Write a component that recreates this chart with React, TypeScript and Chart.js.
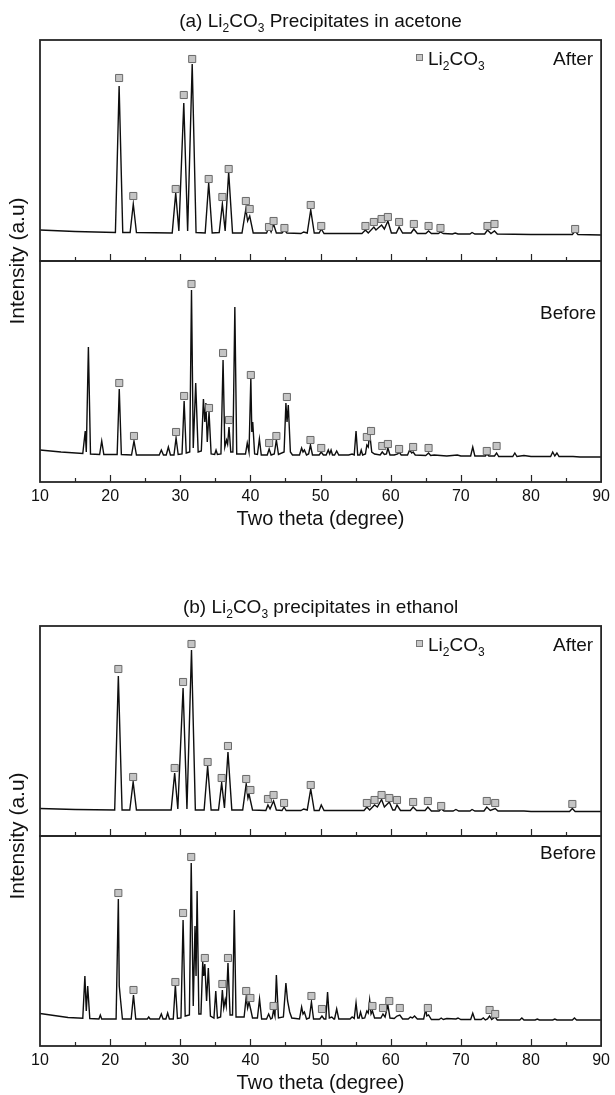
import React, { useEffect, useRef } from "react";
import { Chart, registerables } from "chart.js";

Chart.register(...registerables);

// ---------------- data ----------------
// x: two theta (degree); y: intensity in arbitrary units (each sub-plot runs 0..its height)
const X_MIN = 10;
const X_MAX = 90;
const X_TICK_LABELS = ["10", "20", "30", "40", "50", "60", "70", "80", "90"];
const X_TICK_MARKS = [15, 20, 25, 30, 35, 40, 45, 50, 55, 60, 65, 70, 75, 80, 85];

const acetoneAfter: [number, number][] = [
  [10, 31], [15, 29.5], [20.75, 28.5], [21.28, 175], [21.8, 28.5], [22.85, 28.5], [23.3, 57], [23.75, 28.5],
  [28.85, 28], [29.35, 68], [29.8, 30], [30.5, 158], [31.05, 30], [31.7, 197], [32.25, 28.5],
  [33.55, 28], [34.05, 78], [34.55, 28], [35.55, 28.5], [36.0, 57], [36.4, 30], [36.9, 89], [37.45, 28],
  [38.8, 28], [39.35, 52], [39.6, 40], [39.9, 45], [40.4, 28],
  [42.3, 28], [42.65, 34], [42.95, 29], [43.3, 37], [43.7, 28], [44.5, 28], [44.85, 31], [45.2, 28],
  [47.2, 27.5], [47.6, 29], [48.1, 28], [48.6, 51], [49.1, 28], [49.8, 28], [50.1, 32], [50.5, 27.5],
  [55.9, 27.5], [56.4, 31], [56.8, 28], [57.6, 34], [57.9, 31], [58.7, 36], [59.1, 32], [59.6, 40], [60.1, 28],
  [60.8, 28], [61.2, 34], [61.7, 28], [62.9, 28], [63.3, 32], [63.8, 27.5], [65.0, 27.5], [65.4, 30], [65.8, 27.5],
  [66.8, 27.5], [67.1, 29], [67.5, 27.5], [68.8, 27], [69.2, 28], [69.6, 27], [71.3, 27], [71.6, 28.5], [72, 27],
  [73.4, 27], [73.8, 31], [74.3, 27.5], [74.8, 30], [75.2, 27], [80, 26.5], [85.9, 26.5], [86.3, 30], [86.7, 26.5], [90, 26],
];
const acetoneAfterMarks: [number, number][] = [
  [21.28, 183], [23.3, 65], [29.35, 72], [30.5, 166], [31.7, 202], [34.05, 82], [36.0, 64], [36.9, 92],
  [39.35, 60], [39.9, 52], [42.65, 34], [43.3, 40], [44.85, 33], [48.6, 56], [50.1, 35], [56.4, 35],
  [57.6, 39], [58.7, 42], [59.6, 44], [61.2, 39], [63.3, 37], [65.4, 35], [67.1, 33], [73.8, 35], [74.8, 37], [86.3, 32],
];

const acetoneBefore: [number, number][] = [
  [10, 32], [13, 30], [16.1, 28.5], [16.45, 51], [16.6, 30], [16.9, 135], [17.2, 28], [18.5, 27.5], [18.8, 41], [19.1, 27.5],
  [21.0, 27.5], [21.3, 93], [21.6, 27.5], [23.05, 27], [23.4, 41], [23.75, 27], [27.0, 27], [27.3, 32], [27.6, 27],
  [28.0, 27], [28.3, 35], [28.6, 27], [29.1, 27], [29.4, 44], [29.7, 27.5], [30.25, 28], [30.55, 81], [30.85, 29],
  [31.35, 30], [31.6, 192], [31.85, 34], [32.2, 99], [32.55, 30], [33.0, 31], [33.3, 83], [33.5, 60], [33.65, 79],
  [33.85, 40], [34.1, 70], [34.4, 28], [34.9, 27.5], [35.1, 32], [35.3, 27.5], [35.8, 28], [36.1, 122], [36.35, 35],
  [36.6, 42], [36.75, 38], [36.95, 55], [37.2, 30], [37.5, 30], [37.78, 175], [38.05, 28], [39.3, 28], [39.55, 39],
  [39.8, 30], [40.06, 104], [40.2, 50], [40.33, 60], [40.6, 28], [41.0, 27.5], [41.28, 43], [41.55, 27],
  [42.4, 27], [42.67, 33], [42.95, 27], [43.4, 28], [43.7, 42], [44.0, 27.5], [44.8, 30], [45.06, 79], [45.22, 60],
  [45.4, 77], [45.7, 30], [46.0, 27], [47.0, 27], [47.3, 34], [47.5, 30], [47.7, 32], [48.0, 27], [48.3, 28],
  [48.56, 37], [48.85, 27], [49.8, 27], [50.1, 30], [50.4, 27], [50.8, 27], [51.1, 32], [51.3, 28], [51.5, 32],
  [51.7, 27], [52.0, 27], [52.3, 31], [52.6, 27], [54.0, 27], [54.5, 28], [54.8, 27], [55.06, 51], [55.3, 27],
  [55.6, 27], [55.8, 32], [56.0, 27], [56.4, 28], [56.6, 37], [56.8, 35], [57.0, 49], [57.3, 30], [57.7, 28],
  [58.5, 27], [58.8, 30], [59.1, 27.5], [59.4, 28], [59.6, 34], [59.9, 27], [60.5, 27], [61.0, 28], [61.2, 30],
  [61.5, 27], [62.4, 27], [62.7, 32], [63.0, 29], [63.2, 30], [63.5, 27], [65.0, 26.5], [65.4, 29], [65.7, 26.5],
  [66.2, 27], [68, 26], [69.5, 27], [70, 26], [71.4, 26], [71.7, 35], [72.0, 26], [73.5, 26], [73.7, 28], [74.0, 26],
  [74.8, 26], [75.1, 29], [75.4, 25.5], [77.4, 25.5], [77.7, 29], [78, 25.5], [79, 26.5], [80, 25.5], [82.8, 25.5],
  [83.1, 30], [83.4, 26], [83.7, 29], [84, 25.5], [86, 25.5], [87, 25], [90, 25],
];
const acetoneBeforeMarks: [number, number][] = [
  [21.3, 99], [23.4, 46], [29.4, 50], [30.55, 86], [31.6, 198], [34.1, 74], [36.1, 129], [36.95, 62],
  [40.06, 107], [42.67, 39], [43.7, 46], [45.2, 85], [48.56, 42], [50.1, 34], [56.6, 45], [57.2, 51],
  [58.8, 36], [59.6, 38], [61.2, 33], [63.2, 35], [65.4, 34], [73.7, 31], [75.1, 36],
];

const ethanolAfter: [number, number][] = [
  [10, 27.5], [15, 26.5], [20.65, 26], [21.17, 160], [21.7, 26], [22.8, 26], [23.28, 54], [23.75, 26],
  [28.7, 26], [29.2, 63], [29.65, 27], [30.4, 148], [30.95, 27], [31.6, 186], [32.15, 26],
  [33.4, 26], [33.9, 70], [34.4, 26], [35.45, 26], [35.9, 53], [36.3, 28], [36.8, 84], [37.35, 26],
  [38.9, 26], [39.4, 52], [39.65, 38], [39.8, 42], [40.3, 26], [42.2, 25.5], [42.5, 31], [42.8, 27], [43.3, 35], [43.7, 26],
  [44.5, 25.5], [44.8, 29], [45.1, 25.5], [47.2, 25.5], [47.6, 27], [48.1, 26], [48.6, 47], [49.1, 25.5], [49.8, 25.5],
  [50.1, 31], [50.5, 25.5], [56.2, 25.5], [56.6, 29], [57, 26], [57.7, 31], [58.1, 29], [58.7, 36.5], [59.1, 29],
  [59.8, 34], [60.3, 26], [60.6, 26], [60.9, 31], [61.4, 25.5], [62.8, 25.5], [63.2, 29], [63.7, 25.5], [64.9, 25.5],
  [65.3, 29], [65.8, 25], [66.9, 25], [67.2, 27], [67.6, 25], [68.9, 25], [69.3, 26.5], [69.7, 25], [71.3, 25],
  [71.6, 26.5], [72, 25], [73.3, 25], [73.7, 29], [74.2, 25.5], [74.9, 27.5], [75.3, 25], [79, 25], [80, 24.5],
  [85.5, 24.5], [85.9, 27.5], [86.3, 24.5], [90, 24.5],
];
const ethanolAfterMarks: [number, number][] = [
  [21.17, 167], [23.28, 59], [29.2, 68], [30.4, 154], [31.6, 192], [33.9, 74], [35.9, 58], [36.8, 90],
  [39.4, 57], [40.0, 46], [42.5, 37], [43.3, 41], [44.8, 33], [48.6, 51], [56.6, 33], [57.7, 36],
  [58.7, 41], [59.8, 38], [60.9, 36], [63.2, 34], [65.3, 35], [67.2, 30], [73.7, 35], [74.9, 33], [85.9, 32],
];

const ethanolBefore: [number, number][] = [
  [10, 32.5], [12, 30.5], [14, 28.5], [16.1, 27.7], [16.4, 70], [16.6, 35], [16.8, 60], [17.1, 27.5], [18.4, 27],
  [18.6, 31], [18.8, 27], [20.85, 27], [21.17, 147], [21.3, 60], [21.5, 45], [21.75, 27], [23.0, 27], [23.33, 51],
  [23.65, 27], [25.3, 27], [25.5, 29], [25.7, 27], [27.0, 27], [27.3, 32], [27.55, 27], [27.95, 27], [28.2, 33],
  [28.45, 27], [29.0, 27], [29.3, 61], [29.6, 27.5], [30.1, 28], [30.4, 126], [30.7, 30], [31.3, 31], [31.56, 183],
  [31.85, 40], [32.1, 120], [32.25, 70], [32.4, 155], [32.65, 32], [32.95, 32], [33.2, 84], [33.35, 70], [33.5, 82],
  [33.75, 45], [34.0, 78], [34.3, 30], [34.8, 28], [35.06, 55], [35.3, 28], [35.75, 29], [36.0, 56], [36.2, 38],
  [36.4, 46], [36.55, 40], [36.8, 83], [37.1, 31], [37.45, 31], [37.7, 136], [37.95, 29], [39.1, 29], [39.4, 49],
  [39.6, 38], [39.8, 44], [40.06, 36], [40.3, 28], [41.0, 28], [41.3, 47], [41.6, 27], [42.3, 27], [42.6, 32],
  [42.9, 27], [43.1, 28], [43.3, 36], [43.5, 30], [43.7, 71], [44.0, 28], [44.7, 29], [45.06, 63], [45.3, 45],
  [45.6, 34], [45.9, 28], [47.0, 27], [47.3, 39], [47.5, 32], [47.7, 34], [48.0, 27], [48.4, 28], [48.7, 44],
  [49.0, 27], [49.9, 27], [50.2, 30], [50.5, 27], [50.75, 27], [51.0, 54], [51.25, 28], [51.6, 29], [51.9, 27],
  [52.0, 27], [52.3, 37], [52.6, 27], [54.2, 27], [54.5, 29], [54.8, 27.5], [55.06, 43], [55.3, 28], [55.5, 28],
  [55.7, 34], [55.95, 27.5], [56.3, 28], [56.6, 35], [56.8, 33], [57.0, 46], [57.2, 32], [57.4, 35], [57.7, 28],
  [58.6, 28], [58.9, 32], [59.2, 29], [59.6, 41], [59.9, 28], [60.5, 27.5], [60.9, 30], [61.3, 31], [61.7, 27],
  [62.5, 27], [62.8, 29], [63.1, 28], [63.4, 30], [63.8, 27], [64.7, 27], [65.0, 37], [65.15, 30], [65.4, 31],
  [65.8, 26.5], [66.9, 26.5], [67.2, 28], [67.5, 26.5], [68, 27.5], [69.3, 27], [69.6, 28], [70, 26.5], [71.4, 26.5],
  [71.7, 32.7], [72, 26.5], [72.9, 26.5], [73.2, 28], [73.5, 26], [73.8, 27], [74.1, 30], [74.4, 26.5], [74.9, 29],
  [75.2, 26], [78.4, 26], [78.7, 28], [79, 26], [80.6, 26], [80.9, 27], [81.2, 26], [83.1, 26], [83.4, 27],
  [83.7, 26], [85.9, 26], [86.2, 28], [86.5, 26], [88, 26], [90, 26],
];
const ethanolBeforeMarks: [number, number][] = [
  [21.17, 153], [23.33, 56], [29.3, 64], [30.4, 133], [31.56, 189], [33.5, 88], [36.0, 62], [36.8, 88],
  [39.4, 55], [40.0, 48], [43.3, 40], [48.7, 50], [50.2, 37], [57.4, 40], [58.9, 38], [59.8, 45],
  [61.3, 38], [65.3, 38], [74.1, 36], [74.9, 32],
];

// ---------------- texts ----------------
type Part = { t: string; sub?: boolean };
const TITLE_A: Part[] = [{ t: "(a) Li" }, { t: "2", sub: true }, { t: "CO" }, { t: "3", sub: true }, { t: " Precipitates in acetone" }];
const TITLE_B: Part[] = [{ t: "(b) Li" }, { t: "2", sub: true }, { t: "CO" }, { t: "3", sub: true }, { t: " precipitates in ethanol" }];
const LEGEND_TEXT: Part[] = [{ t: "Li" }, { t: "2", sub: true }, { t: "CO" }, { t: "3", sub: true }];
const Y_TITLE = "Intensity (a.u)";
const X_TITLE = "Two theta (degree)";
const LABEL_AFTER = "After";
const LABEL_BEFORE = "Before";

const FONT = "'Liberation Sans', Arial, Helvetica, sans-serif";
const INK = "#111111";

type PanelCfg = {
  title: Part[];
  after: [number, number][];
  afterMarks: [number, number][];
  before: [number, number][];
  beforeMarks: [number, number][];
  top: number;
  height: number;
  plotTop: number;
  axisH: number;
  titlePad: number;
  sub: number;
  beforeDy: number;
};

const PANELS: PanelCfg[] = [
  {
    title: TITLE_A, after: acetoneAfter, afterMarks: acetoneAfterMarks, before: acetoneBefore, beforeMarks: acetoneBeforeMarks,
    top: 0, height: 545, plotTop: 40, axisH: 63, titlePad: 14, sub: 221, beforeDy: 58,
  },
  {
    title: TITLE_B, after: ethanolAfter, afterMarks: ethanolAfterMarks, before: ethanolBefore, beforeMarks: ethanolBeforeMarks,
    top: 545, height: 550, plotTop: 81, axisH: 49, titlePad: 0, sub: 210, beforeDy: 23,
  },
];

const toXY = (arr: [number, number][]) => arr.map(([x, y]) => ({ x, y }));

function richWidth(ctx: CanvasRenderingContext2D, parts: Part[], size: number, subSize: number) {
  let w = 0;
  for (const p of parts) {
    ctx.font = `${p.sub ? subSize : size}px ${FONT}`;
    w += ctx.measureText(p.t).width;
  }
  return w;
}

function drawRich(ctx: CanvasRenderingContext2D, parts: Part[], x: number, y: number, size: number, subSize: number, align: "left" | "center") {
  const w = richWidth(ctx, parts, size, subSize);
  let cx = align === "center" ? x - w / 2 : x;
  ctx.textAlign = "left";
  ctx.textBaseline = "alphabetic";
  for (const p of parts) {
    ctx.font = `${p.sub ? subSize : size}px ${FONT}`;
    ctx.fillText(p.t, cx, p.sub ? y + 5 : y);
    cx += ctx.measureText(p.t).width;
  }
}

function makeFramePlugin(cfg: PanelCfg) {
  return {
    id: "xrdFrame",
    afterDraw(chart: any) {
      const ctx: CanvasRenderingContext2D = chart.ctx;
      const { left, right, top, bottom } = chart.chartArea;
      const xs = chart.scales.x;
      ctx.save();
      ctx.strokeStyle = "#262626";
      for (const id of ["yAfter", "yBefore"]) {
        const s = chart.scales[id];
        ctx.lineWidth = 1.8;
        ctx.strokeRect(left, s.top, right - left, s.bottom - s.top);
        ctx.lineWidth = 1.2;
        for (const v of X_TICK_MARKS) {
          const px = Math.round(xs.getPixelForValue(v)) + 0.5;
          const len = v % 10 === 0 ? 7 : 4;
          ctx.beginPath();
          ctx.moveTo(px, s.bottom);
          ctx.lineTo(px, s.bottom - len);
          ctx.stroke();
        }
      }
      ctx.fillStyle = INK;
      // panel title
      drawRich(ctx, cfg.title, (left + right) / 2, top - 13, 19, 12, "center");
      // legend
      const ya = chart.scales.yAfter;
      const yb = chart.scales.yBefore;
      ctx.fillStyle = "#c8c8c8";
      ctx.strokeStyle = "#777777";
      ctx.lineWidth = 1;
      ctx.fillRect(left + 376.5, ya.top + 14.5, 6, 6);
      ctx.strokeRect(left + 376.5, ya.top + 14.5, 6, 6);
      ctx.fillStyle = INK;
      drawRich(ctx, LEGEND_TEXT, left + 388, ya.top + 25, 19, 12, "left");
      // After / Before
      ctx.font = `19px ${FONT}`;
      ctx.textAlign = "right";
      ctx.textBaseline = "alphabetic";
      ctx.fillText(LABEL_AFTER, right - 8, ya.top + 25);
      ctx.fillText(LABEL_BEFORE, right - 5, yb.top + cfg.beforeDy);
      // y title
      ctx.save();
      ctx.translate(18, (top + bottom) / 2);
      ctx.rotate(-Math.PI / 2);
      ctx.font = `21px ${FONT}`;
      ctx.textAlign = "center";
      ctx.textBaseline = "middle";
      ctx.fillText(Y_TITLE, 0, 0);
      ctx.restore();
      ctx.restore();
    },
  };
}

function Panel({ cfg }: { cfg: PanelCfg }) {
  const ref = useRef<HTMLCanvasElement | null>(null);
  useEffect(() => {
    if (!ref.current) return;
    const lineStyle = { borderColor: "#0e0e0e", borderWidth: 1.4, pointRadius: 0, tension: 0, fill: false, order: 2 };
    const markStyle = {
      type: "scatter" as const, pointStyle: "rect", pointRadius: 5, pointBackgroundColor: "#c4c4c4",
      pointBorderColor: "#6a6a6a", pointBorderWidth: 1, backgroundColor: "#c4c4c4", borderColor: "#6a6a6a", showLine: false, order: 0,
    };
    const chart = new Chart(ref.current, {
      type: "line",
      data: {
        datasets: [
          { label: "After", data: toXY(cfg.after), yAxisID: "yAfter", ...lineStyle } as any,
          { label: "Before", data: toXY(cfg.before), yAxisID: "yBefore", ...lineStyle } as any,
          { label: "Li2CO3 (after)", data: toXY(cfg.afterMarks), yAxisID: "yAfter", ...markStyle } as any,
          { label: "Li2CO3 (before)", data: toXY(cfg.beforeMarks), yAxisID: "yBefore", ...markStyle } as any,
        ],
      },
      options: {
        animation: false,
        responsive: false,
        maintainAspectRatio: false,
        devicePixelRatio: 1,
        events: [],
        layout: { padding: { left: 40, right: 11, top: cfg.plotTop, bottom: 0 } },
        plugins: { legend: { display: false }, tooltip: { enabled: false }, title: { display: false } },
        scales: {
          x: {
            type: "linear",
            position: "bottom",
            min: X_MIN,
            max: X_MAX,
            afterFit: (s: any) => { s.height = cfg.axisH; },
            ticks: {
              stepSize: 10,
              padding: 5,
              autoSkip: false,
              maxRotation: 0,
              color: INK,
              font: { family: FONT, size: 16 },
              callback: (v: any) => {
                const i = X_TICK_LABELS.indexOf(String(v));
                return i >= 0 ? X_TICK_LABELS[i] : "";
              },
            },
            grid: { display: false, drawTicks: false },
            border: { display: false },
            title: { display: true, text: X_TITLE, color: INK, font: { family: FONT, size: 20 }, padding: { top: 0, bottom: cfg.titlePad } },
          },
          yBefore: { type: "linear", position: "left", stack: "p", stackWeight: 1, weight: 1, min: 0, max: cfg.sub, display: false },
          yAfter: { type: "linear", position: "left", stack: "p", stackWeight: 1, weight: 2, min: 0, max: cfg.sub, display: false },
        } as any,
      },
      plugins: [makeFramePlugin(cfg)],
    });
    return () => chart.destroy();
  }, [cfg]);
  return (
    <canvas
      ref={ref}
      width={615}
      height={cfg.height}
      style={{ position: "absolute", left: 0, top: cfg.top, width: 615, height: cfg.height, display: "block" }}
    />
  );
}

export default function App() {
  return (
    <div style={{ position: "absolute", left: 0, top: 0, width: 615, height: 1095, background: "#ffffff" }}>
      {PANELS.map((p, i) => (
        <Panel key={i} cfg={p} />
      ))}
    </div>
  );
}
